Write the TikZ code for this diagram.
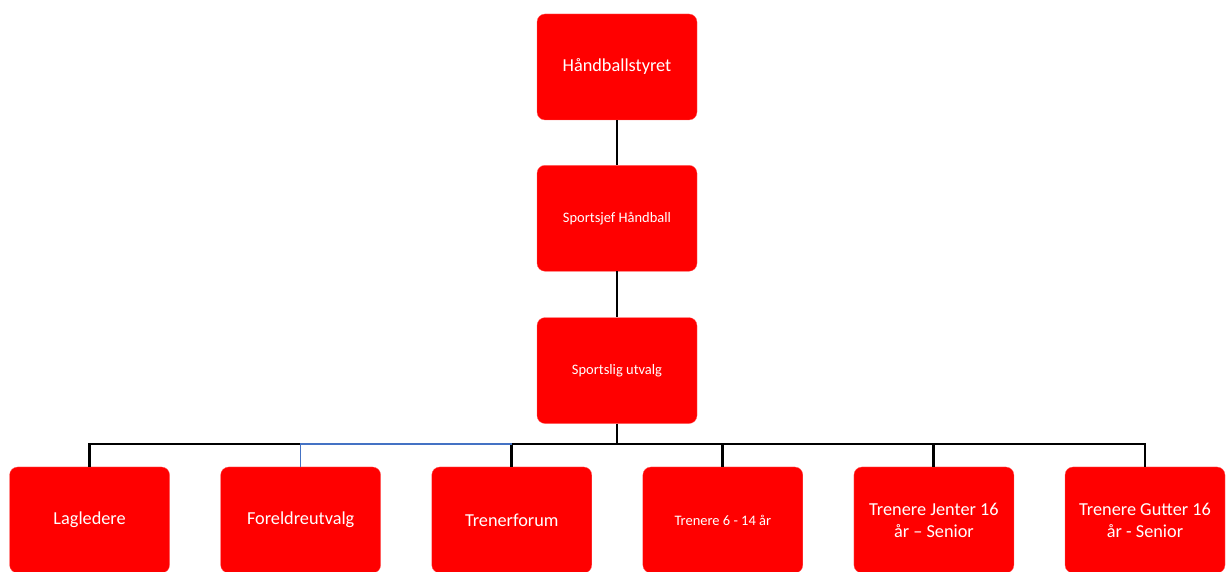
\documentclass[tikz,border=0pt]{standalone}
\usepackage{fontspec}
\setmainfont{Carlito}
\usetikzlibrary{positioning}

\definecolor{orgred}{RGB}{255,0,0}
\definecolor{orgblue}{RGB}{68,114,196}

\begin{document}
\begin{tikzpicture}[
  orgbox/.style={rectangle,rounded corners=0.2cm,fill=orgred,draw=orgred!60,very thin,
    minimum width=4cm,minimum height=2.65cm,align=center,
    text=white,font=\fontsize{13}{15.6}\selectfont},
  smallbox/.style={orgbox,font=\fontsize{10.3}{12.4}\selectfont},
  conn/.style={black,line width=2.1pt},
  thinconn/.style={orgblue,line width=0.8pt}
]
\useasboundingbox (0,0) rectangle (30.675,14.3);

\node[orgbox] (styret) at (15.425,12.625) {Håndballstyret};
\node[smallbox,below=1.125cm of styret] (sportsjef) {Sportsjef Håndball};
\node[smallbox,below=1.15cm of sportsjef] (utvalg) {Sportslig utvalg};

\node[orgbox] (lag) at (2.24,1.3) {Lagledere};
\node[orgbox,right=1.27cm of lag] (foreldre) {Foreldreutvalg};
\node[orgbox,right=1.27cm of foreldre] (forum) {Trenerforum};
\node[smallbox,right=1.27cm of forum] (yngre) {Trenere 6 - 14 år};
\node[orgbox,right=1.27cm of yngre] (jenter) {Trenere Jenter 16\\år – Senior};
\node[orgbox,right=1.27cm of jenter] (gutter) {Trenere Gutter 16\\år - Senior};

\coordinate (bus) at (15.425,3.2);

\draw[conn] (styret) -- (sportsjef);
\draw[conn] (sportsjef) -- (utvalg);
\draw[conn] (utvalg.south) -- (bus);
\draw[conn] (lag.north) -- (lag.north |- bus) -- (foreldre.north |- bus);
\draw[conn] (forum.north |- bus) -- (gutter.north |- bus) -- (gutter.north);
\draw[conn] (forum.north |- bus) -- (forum.north);
\draw[conn] (yngre.north |- bus) -- (yngre.north);
\draw[conn] (jenter.north |- bus) -- (jenter.north);
\draw[thinconn] (foreldre.north) -- (foreldre.north |- bus) -- (forum.north |- bus);

\end{tikzpicture}
\end{document}
